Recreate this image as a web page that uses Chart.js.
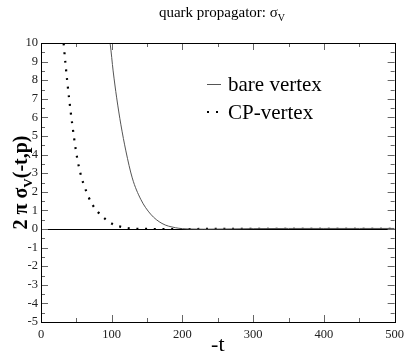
<!DOCTYPE html>
<html>
<head>
<meta charset="utf-8">
<script src="https://cdn.jsdelivr.net/npm/chart.js@4.4.1/dist/chart.umd.min.js"></script>
<style>
    html, body { margin: 0; padding: 0; background: #fff; }
</style>
</head>
<body>
<canvas id="Chart1" width="409" height="354"></canvas>
<script>
// values
const bareT = [95, 98, 102, 107, 113, 120, 129, 141, 155, 171, 190, 210, 230, 260, 300, 350, 400, 450, 500];
const bareSigma = [10.6, 9.9, 8.5, 7.05, 5.6, 4.2, 2.75, 1.6, 0.8, 0.3, 0.07, 0.0, -0.01, 0.0, 0.02, 0.03, 0.03, 0.03, 0.03];
const cpT = [31, 32.2, 37.3, 42, 47.2, 51.3, 57, 66.3, 71.9, 80.8, 91.5, 102, 114, 126, 140, 160, 200, 300, 400, 500];
const cpSigma = [10.5, 9.9, 7.87, 6.29, 4.78, 3.78, 2.81, 1.81, 1.36, 0.9, 0.52, 0.25, 0.11, 0.03, 0.01, 0, 0, 0.01, 0.01, 0.01];
const xTicks = [0, 100, 200, 300, 400, 500];
const yTicks = [-5, -4, -3, -2, -1, 0, 1, 2, 3, 4, 5, 6, 7, 8, 9, 10];
const seriesNames = ['bare vertex', 'CP-vertex'];

const serif = "'Liberation Serif', 'Times New Roman', serif";

function toPoints(xs, ys) {
    return xs.map((x, i) => ({x: x, y: ys[i]}));
}

const decorations = {
    id: 'decorations',
    beforeDatasetsDraw(chart) {
        const ctx = chart.ctx;
        const a = chart.chartArea;
        const y0 = Math.round(chart.scales.y.getPixelForValue(0)) + 0.5;
        ctx.save();
        ctx.strokeStyle = '#000';
        ctx.lineWidth = 1;
        ctx.beginPath();
        ctx.moveTo(a.left, y0);
        ctx.lineTo(a.right, y0);
        ctx.stroke();
        ctx.restore();
    },
    afterDraw(chart) {
        const ctx = chart.ctx;
        const a = chart.chartArea;
        const xs = chart.scales.x;
        const ys = chart.scales.y;
        ctx.save();

        // inward tick marks on all four sides
        ctx.strokeStyle = '#666';
        ctx.lineWidth = 1;
        ctx.beginPath();
        for (let v = 0; v <= 500; v += 50) {
            const px = Math.round(xs.getPixelForValue(v)) + 0.5;
            const len = v % 100 === 0 ? 7 : 4;
            ctx.moveTo(px, a.bottom);
            ctx.lineTo(px, a.bottom - len);
            ctx.moveTo(px, a.top);
            ctx.lineTo(px, a.top + len);
        }
        for (let v = -5; v <= 10; v += 0.5) {
            const py = Math.round(ys.getPixelForValue(v)) + 0.5;
            const len = Number.isInteger(v) ? 7 : 4;
            ctx.moveTo(a.left, py);
            ctx.lineTo(a.left + len, py);
            ctx.moveTo(a.right, py);
            ctx.lineTo(a.right - len, py);
        }
        ctx.stroke();

        // frame
        ctx.strokeStyle = '#000';
        ctx.strokeRect(Math.round(a.left) + 0.5, Math.round(a.top) + 0.5,
                Math.round(a.right - a.left), Math.round(a.bottom - a.top));

        ctx.fillStyle = '#000';
        ctx.textBaseline = 'alphabetic';

        // title with subscript
        const t1 = 'quark propagator: σ';
        ctx.font = '10px ' + serif;
        const subW = ctx.measureText('V').width;
        ctx.font = '15px ' + serif;
        const w1 = ctx.measureText(t1).width;
        let tx = 222 - (w1 + subW) / 2;
        ctx.textAlign = 'left';
        ctx.fillText(t1, tx, 17);
        ctx.font = '10px ' + serif;
        ctx.fillText('V', tx + w1, 21);

        // x axis title
        ctx.font = '22px ' + serif;
        ctx.textAlign = 'center';
        ctx.fillText('-t', (a.left + a.right) / 2, 351);

        // y axis title, rotated, with subscript
        ctx.save();
        ctx.translate(27, (a.top + a.bottom) / 2);
        ctx.rotate(-Math.PI / 2);
        const p1 = '2 π σ';
        const p2 = 'V';
        const p3 = '(-t,p)';
        ctx.font = 'bold 20px ' + serif;
        const w1y = ctx.measureText(p1).width;
        const w3y = ctx.measureText(p3).width;
        ctx.font = 'bold 13px ' + serif;
        const w2y = ctx.measureText(p2).width;
        let yx = -(w1y + w2y + w3y) / 2;
        ctx.textAlign = 'left';
        ctx.font = 'bold 20px ' + serif;
        ctx.fillText(p1, yx, 0);
        ctx.font = 'bold 13px ' + serif;
        ctx.fillText(p2, yx + w1y, 5);
        ctx.font = 'bold 20px ' + serif;
        ctx.fillText(p3, yx + w1y + w2y, 0);
        ctx.restore();

        // legend
        ctx.strokeStyle = '#555';
        ctx.lineWidth = 1;
        ctx.beginPath();
        ctx.moveTo(207, 84.5);
        ctx.lineTo(221, 84.5);
        ctx.stroke();
        ctx.fillStyle = '#000';
        ctx.fillRect(207, 111, 2, 2);
        ctx.fillRect(216, 111, 2, 2);
        ctx.font = '21px ' + serif;
        ctx.textAlign = 'left';
        ctx.fillText(seriesNames[0], 228, 91);
        ctx.fillText(seriesNames[1], 228, 119);

        ctx.restore();
    }
};

const ctx = document.getElementById('Chart1').getContext('2d');
const sigmaChart = new Chart(ctx, {
    type: 'line',
    data: {
        datasets: [{
                label: seriesNames[0],
                data: toPoints(bareT, bareSigma),
                borderColor: '#555',
                borderWidth: 1,
                pointRadius: 0,
                cubicInterpolationMode: 'monotone',
                fill: false
            }, {
                label: seriesNames[1],
                data: toPoints(cpT, cpSigma),
                borderColor: '#000',
                borderWidth: 2.2,
                borderDash: [2, 6.7],
                borderDashOffset: 7.8,
                borderCapStyle: 'butt',
                pointRadius: 0,
                cubicInterpolationMode: 'monotone',
                fill: false
            }]
    },
    options: {
        responsive: false,
        animation: false,
        devicePixelRatio: 1,
        layout: {padding: {left: 0, top: 43, right: 11, bottom: 0}},
        plugins: {
            legend: {display: false},
            title: {display: false},
            tooltip: {enabled: false}
        },
        scales: {
            x: {
                type: 'linear',
                min: 0,
                max: 500,
                afterBuildTicks: s => { s.ticks = xTicks.map(v => ({value: v})); },
                afterFit: s => { s.height = 32; },
                grid: {display: false, drawTicks: false},
                border: {display: false},
                ticks: {
                    padding: 5,
                    autoSkip: false,
                    color: '#222',
                    font: {family: serif, size: 12.5},
                    maxRotation: 0
                }
            },
            y: {
                type: 'linear',
                min: -5,
                max: 10,
                afterBuildTicks: s => { s.ticks = yTicks.map(v => ({value: v})); },
                afterFit: s => { s.width = 41; },
                grid: {display: false, drawTicks: false},
                border: {display: false},
                ticks: {
                    padding: 3,
                    autoSkip: false,
                    color: '#222',
                    font: {family: serif, size: 12.5}
                }
            }
        }
    },
    plugins: [decorations]
});
</script>
</body>
</html>
